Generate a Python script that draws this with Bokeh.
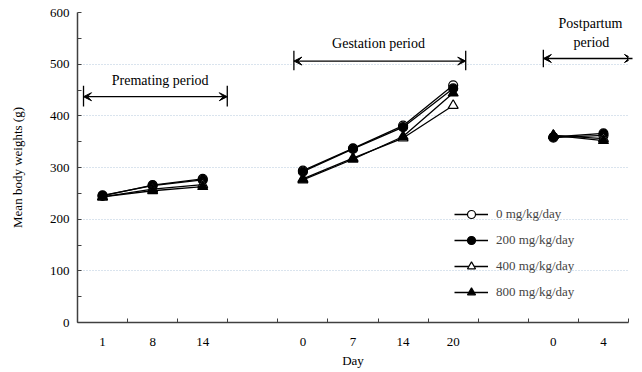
from bokeh.plotting import figure
from bokeh.models import Range1d, FixedTicker, Legend, LegendItem, Arrow, VeeHead, Label
from bokeh.embed import file_html
from bokeh.resources import INLINE

FONT = "Liberation Serif"

# Category slots along the x axis (blank slots separate the periods)
x_labels = ["1", "8", "14", "", "0", "7", "14", "20", "", "0", "4"]
premating_slots = [0, 1, 2]
gestation_slots = [4, 5, 6, 7]
postpartum_slots = [9, 10]

dose_labels = ["0 mg/kg/day", "200 mg/kg/day", "400 mg/kg/day", "800 mg/kg/day"]

premating_0 = [245, 266, 278]
premating_200 = [246, 265, 276]
premating_400 = [243, 258, 267]
premating_800 = [243, 255, 263]

gestation_0 = [294, 337, 381, 459]
gestation_200 = [292, 336, 378, 453]
gestation_400 = [278, 318, 357, 420]
gestation_800 = [276, 316, 360, 444]

postpartum_0 = [358, 362]
postpartum_200 = [359, 366]
postpartum_400 = [362, 356]
postpartum_800 = [362, 352]

series = [
    (premating_0, gestation_0, postpartum_0),
    (premating_200, gestation_200, postpartum_200),
    (premating_400, gestation_400, postpartum_400),
    (premating_800, gestation_800, postpartum_800),
]
markers = [("circle", "white"), ("circle", "black"), ("triangle", "white"), ("triangle", "black")]

p = figure(width=642, height=372, output_backend="svg", toolbar_location=None,
           x_range=Range1d(-0.5, 10.5), y_range=Range1d(0, 600),
           min_border_left=77, min_border_right=14, min_border_top=12, min_border_bottom=50)
p.outline_line_color = None
p.background_fill_color = "white"
p.border_fill_color = "white"

# x axis
p.xaxis.ticker = FixedTicker(ticks=list(range(len(x_labels))),
                             minor_ticks=[i - 0.5 for i in range(len(x_labels) + 1)])
p.xaxis.major_label_overrides = {i: lab for i, lab in enumerate(x_labels)}
p.xaxis.minor_tick_in = 4
p.xaxis.minor_tick_out = 0
p.xaxis.axis_label = "Day"

# y axis
p.yaxis.ticker = FixedTicker(ticks=list(range(0, 601, 100)), minor_ticks=list(range(50, 600, 100)))
p.yaxis.major_tick_in = 4
p.yaxis.major_tick_out = 0
p.yaxis.minor_tick_in = 4
p.yaxis.minor_tick_out = 0
p.yaxis.axis_label = "Mean body weights (g)"

for ax in (p.xaxis, p.yaxis):
    ax.axis_line_color = "#404040"
    ax.axis_line_width = 1.5
    ax.minor_tick_line_color = "#404040"
    ax.major_label_text_font = FONT
    ax.major_label_text_font_size = "13px"
    ax.major_label_text_color = "black"
    ax.axis_label_text_font = FONT
    ax.axis_label_text_font_size = "13px"
    ax.axis_label_text_font_style = "normal"
    ax.axis_label_text_color = "black"
p.yaxis.major_tick_line_color = "#404040"
p.xaxis.major_tick_line_color = None
p.xaxis.major_label_standoff = 9
p.xaxis.axis_label_standoff = 4
p.yaxis.major_label_standoff = 8
p.yaxis.axis_label_standoff = 22

p.xgrid.visible = False
p.ygrid.grid_line_color = "#b4c8dc"
p.ygrid.grid_line_dash = "1 2"
p.ygrid.grid_line_width = 1

items = []
for (pre, ges, post), (mk, fill), lab in zip(series, markers, dose_labels):
    xs = premating_slots + [float("nan")] + gestation_slots + [float("nan")] + postpartum_slots
    ys = pre + [float("nan")] + ges + [float("nan")] + post
    lr = p.line(xs, ys, line_color="black", line_width=1.3)
    pts_x = premating_slots + gestation_slots + postpartum_slots
    pts_y = pre + ges + post
    size = 9 if mk == "circle" else 10
    sr = p.scatter(pts_x, pts_y, marker=mk, size=size, fill_color=fill,
                   line_color="black", line_width=1.2)
    items.append(LegendItem(label=lab, renderers=[lr, sr]))

legend = Legend(items=items, location=(377, 20), orientation="vertical")
legend.border_line_color = None
legend.background_fill_alpha = 0
legend.label_text_font = FONT
legend.label_text_font_size = "13px"
legend.glyph_width = 34
legend.glyph_height = 20
legend.label_height = 20
legend.spacing = 6
legend.padding = 4
legend.margin = 0
legend.label_standoff = 8
p.add_layout(legend, "center")

# Period annotations
def bracket(x0, x1, yc, y0, y1):
    p.add_layout(Arrow(x_start=x0, y_start=yc, x_end=x1, y_end=yc, line_width=1.3,
                       start=VeeHead(size=8, fill_color="black", line_color="black"),
                       end=VeeHead(size=8, fill_color="black", line_color="black")))
    for xb in (x0, x1):
        p.add_layout(Arrow(x_start=xb, y_start=y0, x_end=xb, y_end=y1, end=None,
                           line_width=1.3, line_color="black"))

bracket(-0.38, 2.49, 437, 418, 458)
bracket(3.82, 7.25, 506, 488, 526)
bracket(8.80, 10.58, 511, 494, 528)

for x, y, t in [(1.15, 468, "Premating period"), (5.51, 540, "Gestation period"),
                (9.74, 579, "Postpartum"), (9.76, 542, "period")]:
    p.add_layout(Label(x=x, y=y, text=t, text_font=FONT, text_font_size="14px",
                       text_align="center", text_baseline="middle", text_color="black"))

open("out.html", "w").write(file_html(p, INLINE))
